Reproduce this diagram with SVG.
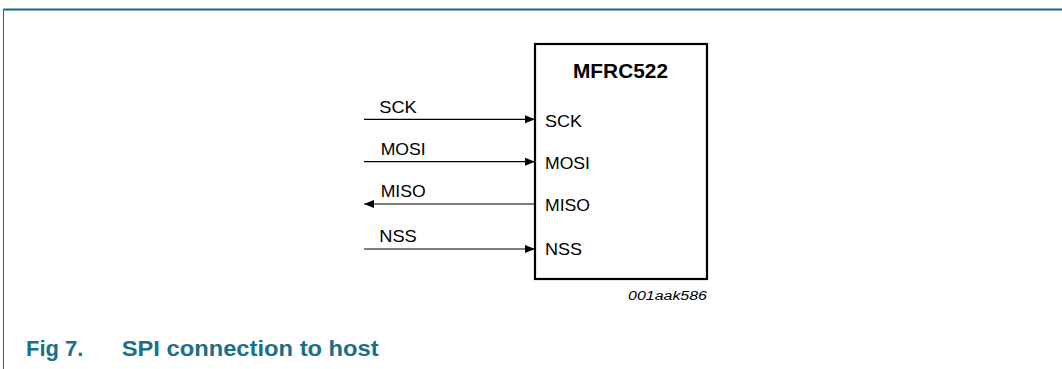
<svg xmlns="http://www.w3.org/2000/svg" width="1062" height="369" viewBox="0 0 1062 369">
<style>
.t{font-family:"Liberation Sans",Arial,sans-serif;fill:#000}
.p{font-size:16.5px}
.w{stroke:#000;stroke-width:1.2;fill:none}
.cap{font-family:"Liberation Sans",Arial,sans-serif;font-weight:bold;font-size:22px;fill:#1a6f89}
</style>
<defs>
<marker id="ah" viewBox="0 0 10 8" refX="10" refY="4" markerWidth="10" markerHeight="8" markerUnits="userSpaceOnUse" orient="auto">
<path d="M0,0 L10,4 L0,8 Z" fill="#000"/>
</marker>
</defs>
<g id="frame">
<line x1="3.5" y1="9.5" x2="1062" y2="9.5" stroke="#156a84" stroke-width="2"/>
<line x1="3.5" y1="9" x2="3.5" y2="369" stroke="#156a84" stroke-width="1"/>
</g>
<g id="mfrc522">
<rect x="535" y="44" width="172" height="235" fill="#fff" stroke="#000" stroke-width="2.2"/>
<text class="t" x="573" y="78" font-size="19.5" font-weight="bold" textLength="95" lengthAdjust="spacingAndGlyphs">MFRC522</text>
<text class="t p" x="545" y="126.5" textLength="37" lengthAdjust="spacingAndGlyphs">SCK</text>
<text class="t p" x="545" y="168.5" textLength="45" lengthAdjust="spacingAndGlyphs">MOSI</text>
<text class="t p" x="545" y="211" textLength="45" lengthAdjust="spacingAndGlyphs">MISO</text>
<text class="t p" x="545" y="254.5" textLength="37" lengthAdjust="spacingAndGlyphs">NSS</text>
</g>
<g id="connectors">
<line class="w" x1="364" y1="119.3" x2="535" y2="119.3" marker-end="url(#ah)"/>
<line class="w" x1="364" y1="161.7" x2="535" y2="161.7" marker-end="url(#ah)"/>
<line class="w" x1="535" y1="204" x2="364" y2="204" marker-end="url(#ah)"/>
<line class="w" x1="364" y1="249" x2="535" y2="249" marker-end="url(#ah)"/>
</g>
<g id="signal-labels">
<text class="t p" x="379.3" y="113.2" textLength="37.5" lengthAdjust="spacingAndGlyphs">SCK</text>
<text class="t p" x="380.7" y="155.3" textLength="45" lengthAdjust="spacingAndGlyphs">MOSI</text>
<text class="t p" x="380.7" y="197" textLength="45" lengthAdjust="spacingAndGlyphs">MISO</text>
<text class="t p" x="379.3" y="242" textLength="37.5" lengthAdjust="spacingAndGlyphs">NSS</text>
</g>
<g id="code">
<text class="t" x="628" y="300" font-size="12.5" font-style="italic" textLength="79" lengthAdjust="spacingAndGlyphs">001aak586</text>
</g>
<g id="caption">
<text class="cap" x="26" y="355.5">Fig 7.</text>
<text class="cap" x="121.7" y="355.5" textLength="257" lengthAdjust="spacingAndGlyphs">SPI connection to host</text>
</g>
</svg>
